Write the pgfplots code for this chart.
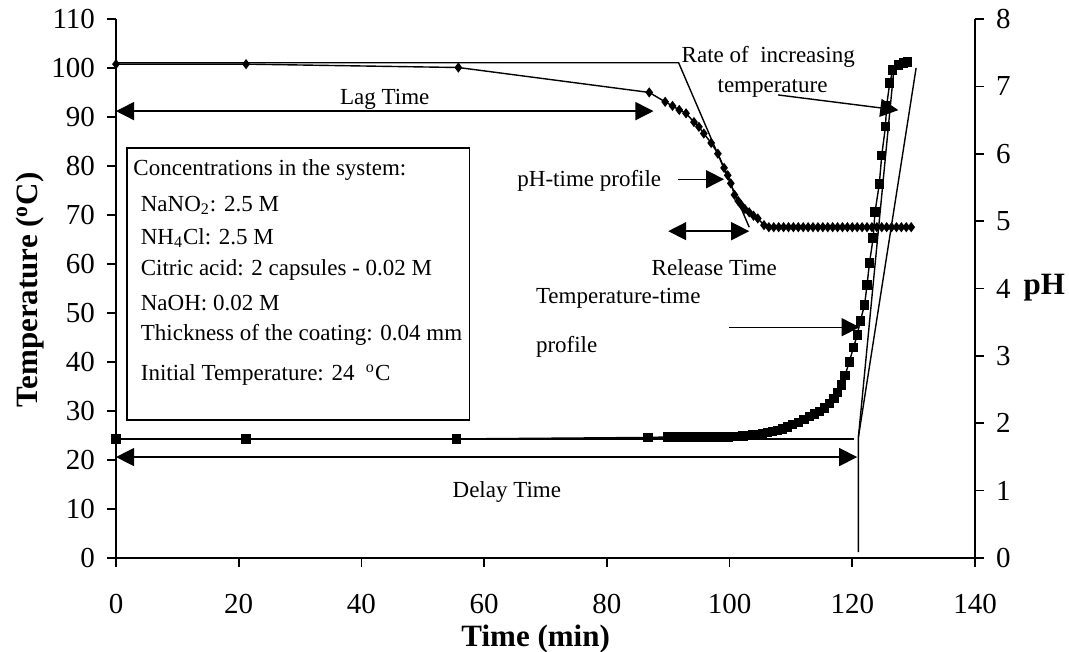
\documentclass[border=0pt]{standalone}
\usepackage{fontspec}
\setmainfont{Liberation Serif}
\usepackage{pgfplots}
\pgfplotsset{compat=1.18}
\usetikzlibrary{arrows.meta}

\begin{document}
\begin{tikzpicture}
\useasboundingbox (0,0) rectangle (534.5pt,326pt);
\pgfplotsset{
  base/.style={at={(58pt,47pt)}, anchor=south west, scale only axis,
    width=429.5pt, height=269.5pt, xmin=0, xmax=140, clip=false,
    tick align=outside, major tick length=4.5pt,
    axis line style={-, line width=0.9pt},
    major tick style={line width=0.8pt, black},
    tick label style={font=\fontsize{14.5}{16}\selectfont},
    /pgf/number format/assume math mode=true},
}
\tikzset{
  ann/.style={font=\fontsize{11.5}{13}\selectfont},
  tip/.style={line width=0.7pt, -{Triangle[length=9pt,width=9pt]}},
  dtip/.style={line width=0.7pt, {Triangle[length=9pt,width=9pt]}-{Triangle[length=9pt,width=9pt]}},
}
% temperature axis
\begin{axis}[base, axis x line*=bottom, axis y line*=left,
  ymin=0, ymax=110, ytick={0,10,...,110}, xtick={0,20,...,140},
  yticklabel style={xshift=-2.5pt}, xticklabel style={yshift=-10pt}]
\addplot[black, line width=0.7pt, mark=square*, mark size=2pt] coordinates {
(0,24.3)(21.2,24.3)(55.5,24.3)(86.7,24.6)(89.9,24.7)(90.6,24.7)(91.4,24.7)(92.9,24.7)
(94.2,24.7)(95,24.7)(95.8,24.7)(96.6,24.7)(97.4,24.7)(98.2,24.7)(99,24.7)(99.8,24.7)
(100.6,24.8)(101.4,24.8)(102.2,24.9)(103,25)(103.8,25.1)(104.6,25.2)(105.4,25.4)(106.2,25.6)
(107,25.8)(107.8,26)(108.6,26.3)(109.4,26.7)(110.3,27.2)(111.2,27.7)(112.1,28.3)(113,28.9)
(113.8,29.4)(114.7,29.9)(115.5,30.6)(116.3,31.5)(117,32.6)(117.6,33.8)(118.2,35.3)(118.8,37.2)
(119.5,40)(120.2,43)(120.8,45.5)(121.3,48.4)(122,51.6)(122.4,55.7)(122.8,60.2)(123.4,65.3)
(123.7,70.6)(124.4,76.3)(124.8,82.2)(125.4,88)(125.6,92.4)(126.1,96.9)(126.6,99.6)(127.5,100.6)
(128.3,101)(129,101.2)};
% delay-time construction lines
\addplot[black, line width=0.7pt, no marks] coordinates {(0,24.3)(120.3,24.3)};
\addplot[black, line width=0.7pt, no marks] coordinates {(121,1.2)(121,24.7)(126.8,100)};
\addplot[black, line width=0.7pt, no marks] coordinates {(121,24.7)(130.4,100)};
% arrows
\draw[dtip] (axis cs:0,91.2) -- (axis cs:87.6,91.2);
\draw[dtip] (axis cs:0,20.6) -- (axis cs:120.8,20.6);
\draw[dtip] (axis cs:90,66.7) -- (axis cs:103.2,66.7);
\draw[tip] (axis cs:91.6,77.3) -- (axis cs:99.1,77.3);
\draw[tip] (axis cs:99.9,47.1) -- (axis cs:121.2,47.1);
\draw[tip] (axis cs:107.9,94.5) -- (axis cs:127.5,91.4);
% annotation text
\node[ann] at (axis cs:43.8,93.5) {Lag Time};
\node[ann] at (axis cs:63.7,13.5) {Delay Time};
\node[ann] at (axis cs:97.5,59.2) {Release Time};
\node[ann, anchor=east] at (axis cs:90,76.9) {pH-time profile};
\node[ann, anchor=west] at (axis cs:67.3,52.9) {Temperature-time};
\node[ann, anchor=west] at (axis cs:67.3,43) {profile};
\node[ann] at (axis cs:106.3,102.2) {Rate of\ \ increasing};
\node[ann] at (axis cs:107,95.9) {temperature};
% info box
\draw[line width=0.8pt] (axis cs:1.8,28.2) rectangle (axis cs:57.6,83.7);
\node[ann, anchor=west] at (axis cs:1.7,79.2) {Concentrations in the system:};
\node[ann, anchor=west] at (axis cs:2.9,72) {NaNO\textsubscript{2}: 2.5 M};
\node[ann, anchor=west] at (axis cs:2.9,65.3) {NH\textsubscript{4}Cl: 2.5 M};
\node[ann, anchor=west] at (axis cs:2.9,58.8) {Citric acid: 2 capsules - 0.02 M};
\node[ann, anchor=west] at (axis cs:2.9,52) {NaOH: 0.02 M};
\node[ann, anchor=west] at (axis cs:2.9,45.5) {Thickness of the coating: 0.04 mm};
\node[ann, anchor=west] at (axis cs:2.9,37.3) {Initial Temperature: 24\ \ \textsuperscript{o}C};
% axis labels
\node[rotate=90, font=\bfseries\fontsize{15.5}{17}\selectfont] at (axis cs:-14,54.7) {Temperature (\textsuperscript{o}C)};
\node[font=\bfseries\fontsize{15.5}{17}\selectfont] at (axis cs:68.4,-16.6) {Time (min)};
\node[font=\bfseries\fontsize{15.5}{17}\selectfont] at (axis cs:151.3,55.1) {pH};
\end{axis}
% pH axis
\begin{axis}[base, axis x line=none, axis y line*=right,
  ymin=0, ymax=8, ytick={0,1,...,8}, yticklabel style={xshift=2.5pt}]
\addplot[black, line width=0.7pt, mark=diamond*, mark size=2pt] coordinates {
(0,7.33)(21.2,7.33)(55.8,7.28)(86.9,6.91)(89.5,6.77)(90.7,6.71)(91.8,6.65)(92.9,6.6)
(94.2,6.47)(95,6.4)(95.8,6.3)(97,6.16)(98.1,6.0)(99.1,5.79)(99.7,5.68)(100.2,5.56)
(100.8,5.39)(101.4,5.3)(101.9,5.24)(102.5,5.18)(103.2,5.13)(103.9,5.08)(104.6,5.04)(105.6,4.94)
(106.4,4.91)(107.2,4.91)(108,4.91)(108.8,4.91)(109.6,4.91)(110.4,4.91)(111.2,4.91)(112,4.91)
(112.8,4.91)(113.6,4.91)(114.4,4.91)(115.2,4.91)(116,4.91)(116.8,4.91)(117.6,4.91)(118.4,4.91)
(119.2,4.91)(120,4.91)(120.8,4.91)(121.6,4.91)(122.4,4.91)(123.2,4.91)(124,4.91)(124.8,4.91)
(125.6,4.91)(126.4,4.91)(127.2,4.91)(128,4.91)(128.8,4.91)(129.6,4.91)};
% lag-time construction lines
\addplot[black, line width=0.7pt, no marks] coordinates {(0,7.35)(91.7,7.35)(103.2,4.91)};
\end{axis}
\end{tikzpicture}
\end{document}
